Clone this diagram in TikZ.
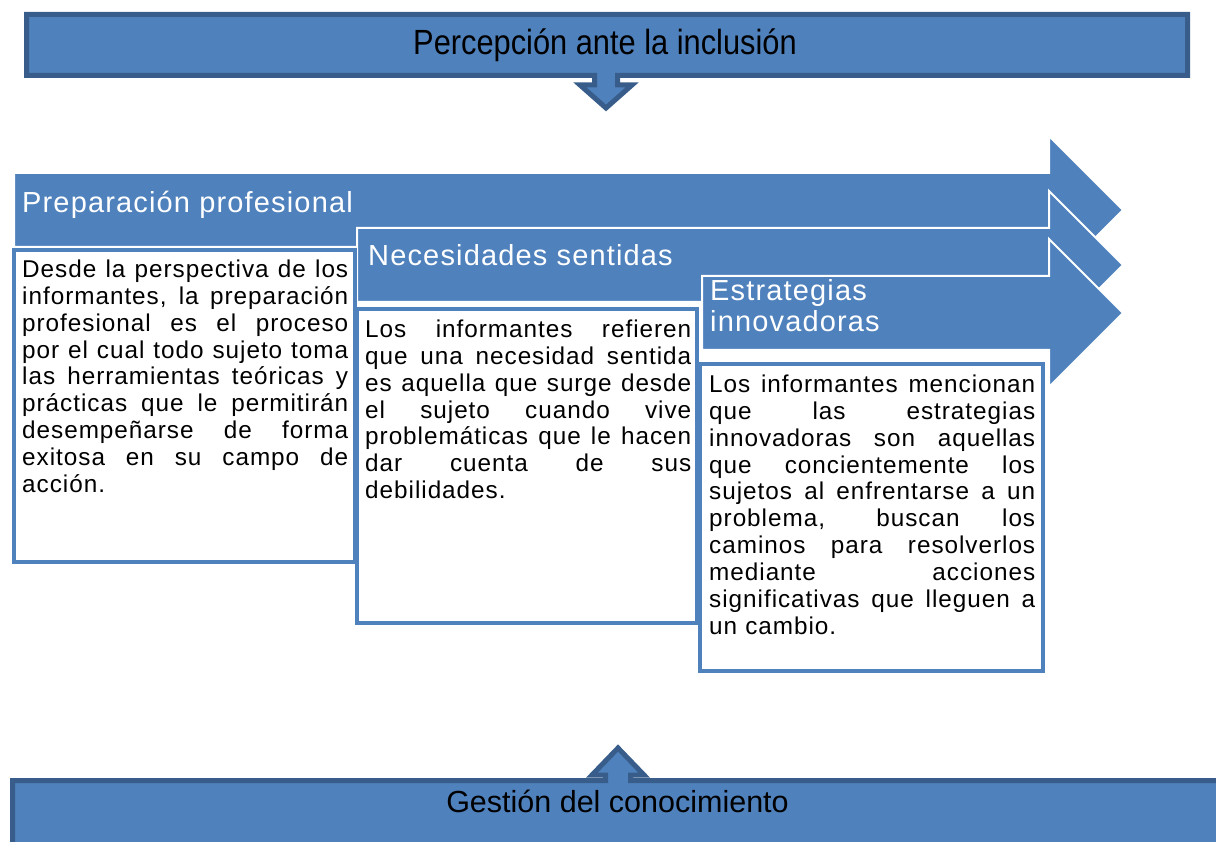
\documentclass[tikz,border=0pt]{standalone}
\usepackage{fontspec}
\setmainfont{Liberation Sans}
\newfontfamily\spacedfont{Liberation Sans}[LetterSpace=4]
\newfontfamily\narrowfont{Liberation Sans}[FakeStretch=0.88]
\usetikzlibrary{calc}
\definecolor{boxblue}{HTML}{4F81BD}
\definecolor{edgeblue}{HTML}{385D8A}
\newcommand{\jl}[1]{\makebox[326pt][s]{\spaceskip=0pt\xspaceskip=0pt\relax #1}\\}

\begin{document}
\begin{tikzpicture}[x=1pt, y=-1pt,
   banner/.style={fill=boxblue, draw=edgeblue, line width=5pt},
   chevron/.style={fill=boxblue, draw=white, line width=2pt},
   textbox/.style={fill=white, draw=boxblue, line width=4pt},
   head/.style={text=white, inner sep=0pt, font=\spacedfont\fontsize{29}{31}\selectfont},
   body/.style={inner sep=0pt, text width=326pt, align=left, font=\spacedfont\fontsize{24.3}{26.9}\selectfont}]
   \clip (0,0) rectangle (1216,842);

   % top and bottom banners with their arrows
   \draw[banner] (26.5,14.5) -- (1187.5,14.5) -- (1187.5,75.5) -- (617.5,75.5) -- (617.5,85)
      -- (632,85) -- (606,108) -- (580,85) -- (594.5,85) -- (594.5,75.5) -- (26.5,75.5) -- cycle;
   \draw[banner] (12.5,870) -- (12.5,780.5) -- (605.5,780.5) -- (605.5,775) -- (592,775)
      -- (618,748) -- (644,775) -- (630.5,775) -- (630.5,780.5) -- (1240,780.5) -- (1240,870) -- cycle;
   \node[inner sep=0pt, anchor=base, font=\narrowfont\fontsize{35}{40}\selectfont] (percep) at (605,55) {Percepción ante la inclusión};
   \node[inner sep=0pt, anchor=base, font=\fontsize{30.5}{35}\selectfont] (gestion) at (617.5,812) {Gestión del conocimiento};

   % chevrons
   \draw[chevron] (14,173) -- (1049,173) -- (1049,136) -- (1123,210) -- (1049,284) -- (1049,247) -- (14,247) -- cycle;
   \draw[chevron] (357,228) -- (1049,228) -- (1049,191) -- (1123,265) -- (1049,339) -- (1049,302) -- (357,302) -- cycle;
   \draw[chevron] (702,276) -- (1049,276) -- (1049,239) -- (1123,313) -- (1049,387) -- (1049,350) -- (702,350) -- cycle;

   % text boxes
   \draw[textbox] (14,250) rectangle (355,562);
   \draw[textbox] (357,309) rectangle (697,623);
   \draw[textbox] (700,364) rectangle (1043,671);

   \node[head, anchor=base west] (prep) at (22,213) {Preparación profesional};
   \node[head, anchor=base west] (nec) at (368,266) {Necesidades sentidas};
   \node[head, anchor=north west, align=left] (estr) at (710,279) {Estrategias\\innovadoras};

   \node[body, anchor=north west] (prept) at (22,259.5) {\jl{Desde la perspectiva de los}\jl{informantes, la preparación}\jl{profesional es el proceso}\jl{por el cual todo sujeto toma}\jl{las herramientas teóricas y}\jl{prácticas que le permitirán}\jl{desempeñarse de forma}\jl{exitosa en su campo de}acción.};
   \node[body, anchor=north west] (nect) at (365,319.5) {\jl{Los informantes refieren}\jl{que una necesidad sentida}\jl{es aquella que surge desde}\jl{el sujeto cuando vive}\jl{problemáticas que le hacen}\jl{dar cuenta de sus}debilidades.};
   \node[body, anchor=north west] (estrt) at (709,374.5) {\jl{Los informantes mencionan}\jl{que las estrategias}\jl{innovadoras son aquellas}\jl{que concientemente los}\jl{sujetos al enfrentarse a un}\jl{problema, buscan los}\jl{caminos para resolverlos}\jl{mediante acciones}\jl{significativas que lleguen a}un cambio.};
\end{tikzpicture}
\end{document}
